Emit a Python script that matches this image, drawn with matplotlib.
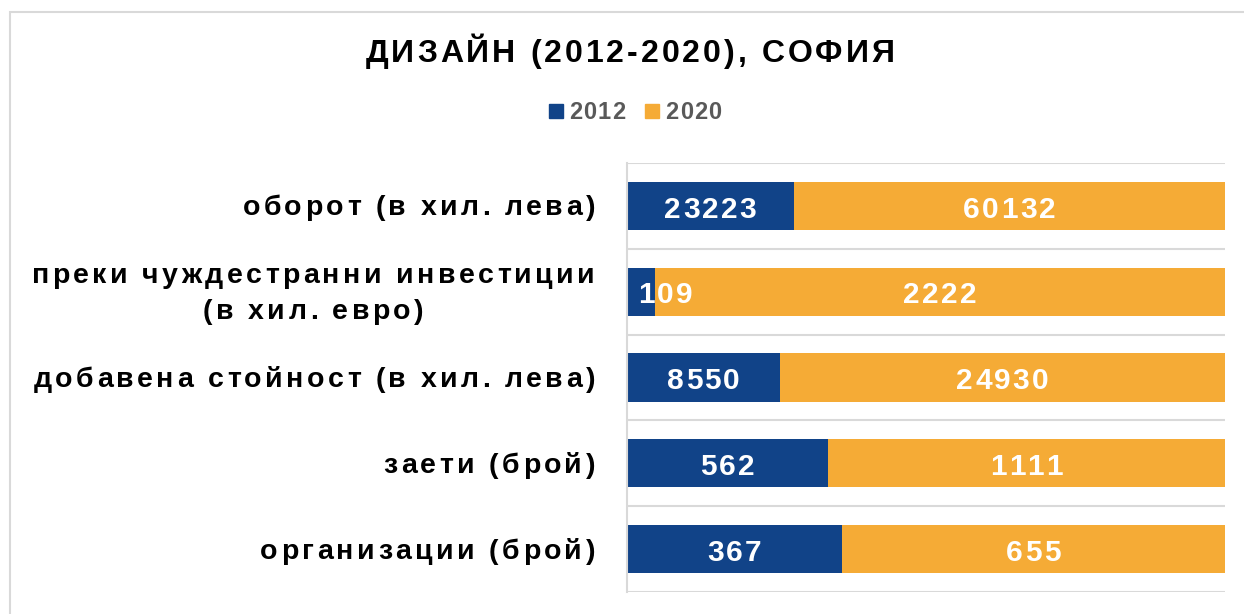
import matplotlib
matplotlib.use('Agg')
import matplotlib.pyplot as plt
from matplotlib.font_manager import FontProperties
from matplotlib.patches import Rectangle

# data
categories = ['оборот (в хил. лева)',
              'преки чуждестранни инвестиции\n(в хил. евро)',
              'добавена стойност (в хил. лева)',
              'заети (брой)',
              'организации (брой)']
values_2012 = [23223, 109, 8550, 562, 367]
values_2020 = [60132, 2222, 24930, 1111, 655]
series_names = ['2012', '2020']
title = 'ДИЗАЙН (2012-2020), СОФИЯ'

BLUE = '#114388'
ORANGE = '#F5AB36'
GRID = '#D9D9D9'
W, H = 1244, 614

fig = plt.figure(figsize=(W / 100, H / 100), dpi=100)
ax = fig.add_axes([627 / W, 1 - 592 / H, (1225 - 627) / W, (592 - 163) / H])
renderer = fig.canvas.get_renderer()


def advance(s, prop):
    w1 = renderer.get_text_width_height_descent('|' + s + '|', prop, ismath=False)[0]
    w0 = renderer.get_text_width_height_descent('||', prop, ismath=False)[0]
    return w1 - w0


def spaced_text(x, y, s, size, gap, ha='center', color='black'):
    # x, y in pixels from top-left, y is the baseline
    prop = FontProperties(family=['Liberation Sans', 'DejaVu Sans'], weight='bold', size=size)
    widths = [advance(c, prop) for c in s]
    total = sum(widths) + gap * (len(s) - 1)
    if ha == 'center':
        x -= total / 2
    elif ha == 'right':
        x -= total
    for c, w in zip(s, widths):
        if c != ' ':
            fig.text(x / W, 1 - y / H, c, fontproperties=prop, color=color,
                     ha='left', va='baseline')
        x += w + gap
    return total


# bars (100% stacked)
y = list(range(len(categories)))
totals = [a + b for a, b in zip(values_2012, values_2020)]
share_2012 = [a / t for a, t in zip(values_2012, totals)]
share_2020 = [b / t for b, t in zip(values_2020, totals)]

ax.barh(y, share_2012, height=0.56, color=BLUE)
ax.barh(y, share_2020, left=share_2012, height=0.56, color=ORANGE)
ax.set_xlim(0, 1)
ax.set_ylim(len(categories) - 0.5, -0.5)
ax.set_xticks([])
ax.set_yticks([])
for k in range(len(categories) + 1):
    ax.axhline(k - 0.5, color=GRID, lw=1.5, zorder=0)
for side in ['top', 'right', 'bottom']:
    ax.spines[side].set_visible(False)
ax.spines['left'].set_color(GRID)
ax.spines['left'].set_linewidth(1.5)

# bar labels
bar_size = 21.5
bar_gap = 2.2
bar_em = bar_size * 100 / 72
left_px = ax.transData.transform((0, 0))[0]
for i in y:
    segs = [(0, share_2012[i], values_2012[i]),
            (share_2012[i], share_2020[i], values_2020[i])]
    for start, width, val in segs:
        cx, cy = ax.transData.transform((start + width / 2, i))
        cy = H - cy
        s = str(val)
        prop = FontProperties(family='Liberation Sans', weight='bold', size=bar_size)
        tw = sum(advance(c, prop) for c in s) + bar_gap * (len(s) - 1)
        base = cy + 0.358 * bar_em + 1
        if cx - tw / 2 < left_px + 11:
            spaced_text(left_px + 11, base, s, bar_size, bar_gap, ha='left', color='white')
        else:
            spaced_text(cx, base, s, bar_size, bar_gap, ha='center', color='white')

# category labels
cat_size = 20.5
cat_gap = 3.4
cat_em = cat_size * 100 / 72
for i, label in enumerate(categories):
    cy = H - ax.transData.transform((0, i))[1]
    lines = label.split('\n')
    prop = FontProperties(family='Liberation Sans', weight='bold', size=cat_size)
    widths = [sum(advance(c, prop) for c in ln) + cat_gap * (len(ln) - 1) for ln in lines]
    block = max(widths)
    n = len(lines)
    for j, ln in enumerate(lines):
        base = cy + 0.26 * cat_em + 2 + (j - (n - 1) / 2) * 36
        spaced_text(595 - block / 2, base, ln, cat_size, cat_gap, ha='center')

# title
spaced_text(630, 62, title, 23, 3.0, ha='center')

# legend
leg_size = 17
colors = [BLUE, ORANGE]
lx = 549
for name, col in zip(series_names, colors):
    fig.add_artist(Rectangle((lx / W, 1 - 118 / H), 14 / W, 14 / H,
                             transform=fig.transFigure, color=col))
    tw = spaced_text(lx + 20, 119, name, leg_size, 1.2, ha='left', color='#595959')
    lx += 20 + tw + 20

# outer frame
fig.add_artist(Rectangle((10 / W, -0.1), 1.2, 1.1 - 12 / H, transform=fig.transFigure,
                         fill=False, edgecolor=GRID, lw=1.5))

fig.savefig('out.png', dpi=100)
